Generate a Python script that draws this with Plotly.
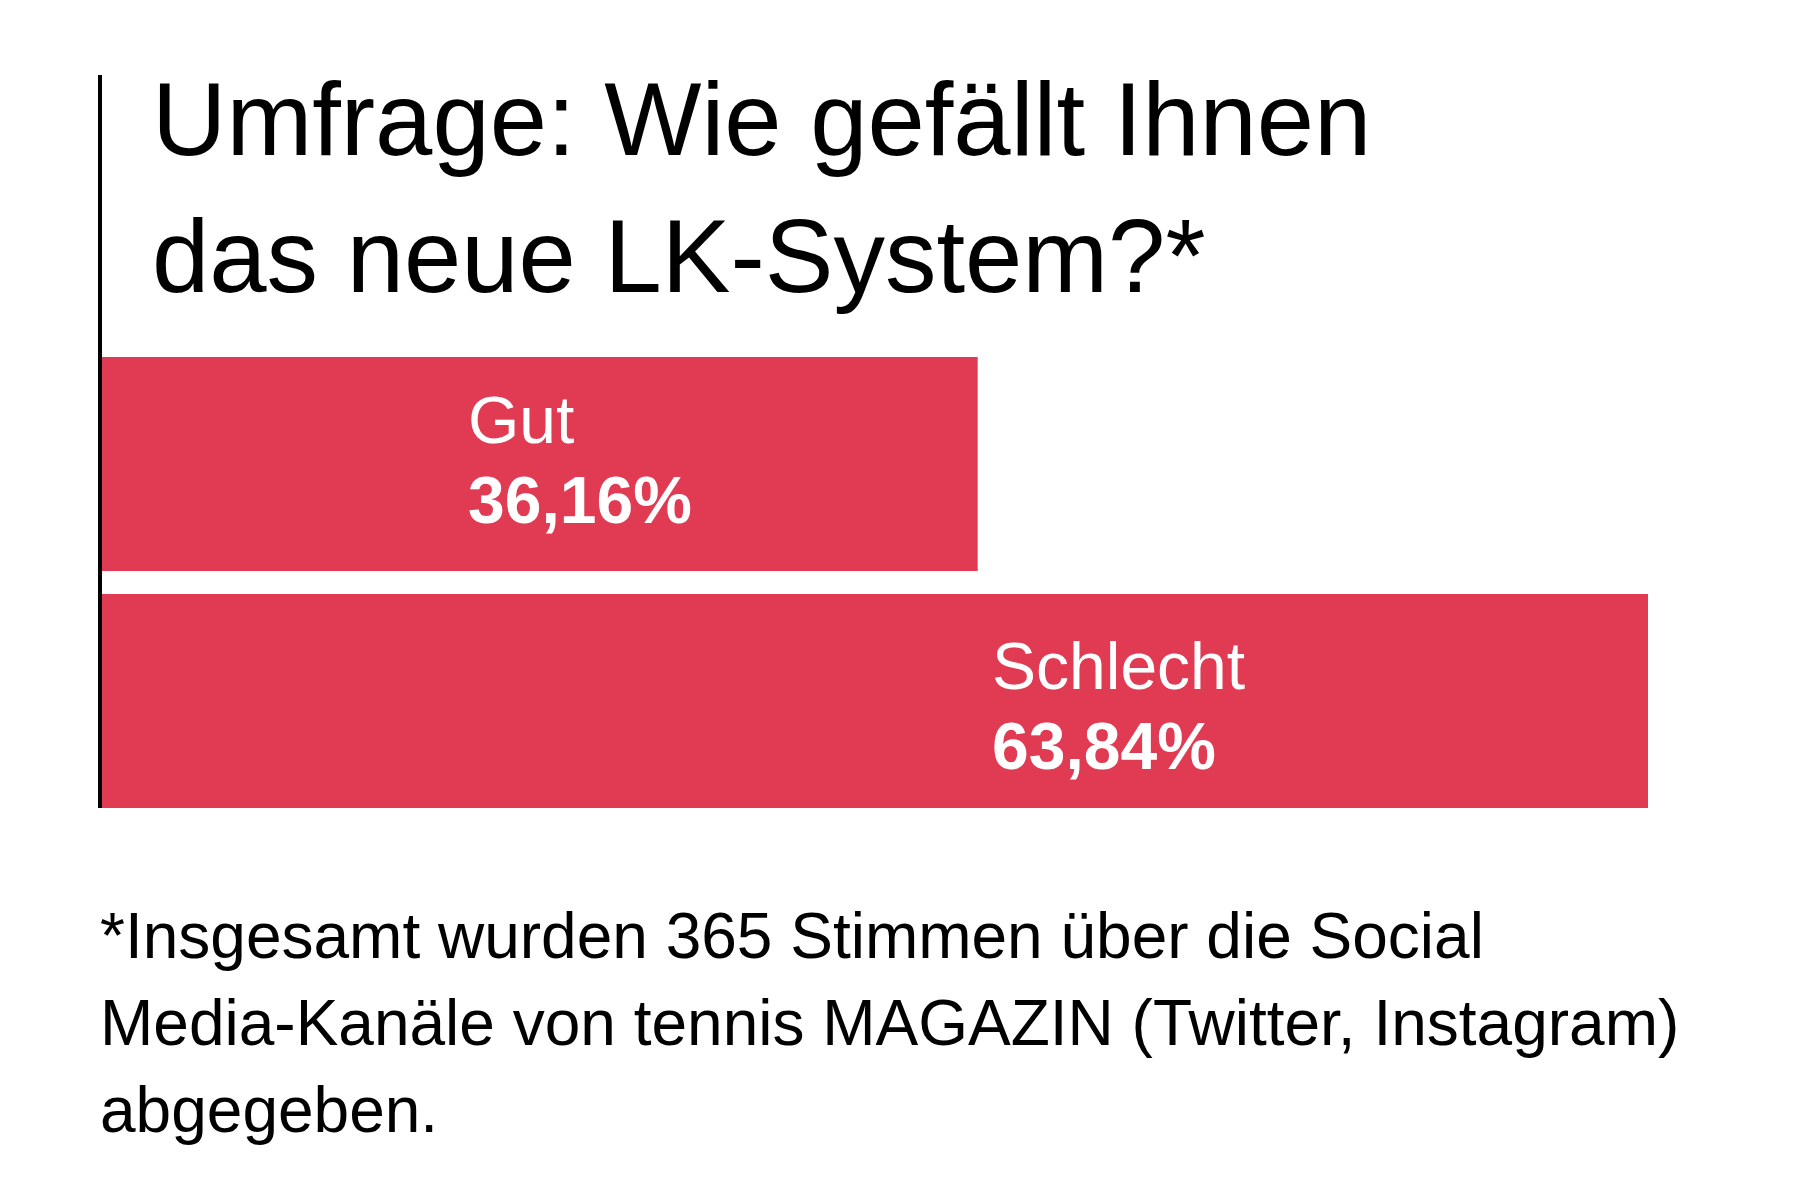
import plotly.graph_objects as go

# ---------------- data ----------------
categories = ["Gut", "Schlecht"]
values = [36.16, 63.84]
value_labels = ["36,16%", "63,84%"]
title_lines = ["Umfrage: Wie gefällt Ihnen", "das neue LK-System?*"]
footnote_lines = [
    "*Insgesamt wurden 365 Stimmen über die Social",
    "Media-Kanäle von tennis MAGAZIN (Twitter, Instagram)",
    "abgegeben.",
]

# ---------------- style / layout ----------------
BAR_COLOR = "#E13B54"
FONT = "Liberation Sans, Arial, Helvetica, sans-serif"
W, H = 1815, 1200
L, R, T, B = 102, 167, 357, 392
PW, PH = W - L - R, H - T - B


def py(p):  # pixel from top -> paper y
    return (H - B - p) / PH


def px(p):  # pixel from left -> paper x
    return (p - L) / PW


BAR_FRAC = 0.903

fig = go.Figure(
    go.Bar(
        x=values,
        y=categories,
        orientation="h",
        width=BAR_FRAC,
        marker=dict(color=BAR_COLOR, line=dict(width=0)),
        hoverinfo="skip",
    )
)

annotations = []
# title (one annotation per line, positioned by cap-height centre)
TITLE_SIZE = 103
title_baselines = [157, 294]
for line, base in zip(title_lines, title_baselines):
    annotations.append(dict(
        text=line, xref="paper", yref="paper",
        x=px(150), y=py(base - 0.36 * TITLE_SIZE), xanchor="left", yanchor="middle",
        align="left", showarrow=False,
        font=dict(family=FONT, size=TITLE_SIZE, color="#000000"),
    ))
# bar labels
label_x = [470, 994]
label_cy = [420, 666]
value_cy = [500, 746]
for i, cat in enumerate(categories):
    annotations.append(dict(
        text=cat, xref="paper", yref="paper",
        x=px(label_x[i] - 4), y=py(label_cy[i]), xanchor="left", yanchor="middle",
        showarrow=False, font=dict(family=FONT, size=66, color="#ffffff"),
    ))
    annotations.append(dict(
        text="<b>" + value_labels[i] + "</b>", xref="paper", yref="paper",
        x=px(label_x[i] - 4), y=py(value_cy[i]), xanchor="left", yanchor="middle",
        showarrow=False, font=dict(family=FONT, size=66, color="#ffffff"),
    ))
# footnote (one annotation per line)
FOOT_SIZE = 64
foot_baselines = [959, 1046, 1133]
for line, base in zip(footnote_lines, foot_baselines):
    annotations.append(dict(
        text=line, xref="paper", yref="paper",
        x=px(98), y=py(base - 0.36 * FOOT_SIZE), xanchor="left", yanchor="middle",
        align="left", showarrow=False,
        font=dict(family=FONT, size=FOOT_SIZE, color="#000000"),
    ))

fig.update_layout(
    width=W, height=H,
    margin=dict(l=L, r=R, t=T, b=B, pad=0),
    paper_bgcolor="#ffffff", plot_bgcolor="#ffffff",
    showlegend=False,
    xaxis=dict(range=[0, max(values)], visible=False, fixedrange=True),
    yaxis=dict(
        type="category", categoryorder="array", categoryarray=categories,
        range=[len(categories) - 1 + BAR_FRAC / 2, -BAR_FRAC / 2],
        visible=False, fixedrange=True,
    ),
    annotations=annotations,
    shapes=[dict(
        type="line", xref="paper", yref="paper",
        x0=px(100), x1=px(100), y0=0, y1=py(75),
        line=dict(color="#000000", width=4),
    )],
)

fig.write_html(
    "out.html",
    config={"displayModeBar": False, "staticPlot": True},
    post_script="document.body.style.margin='0';",
)
